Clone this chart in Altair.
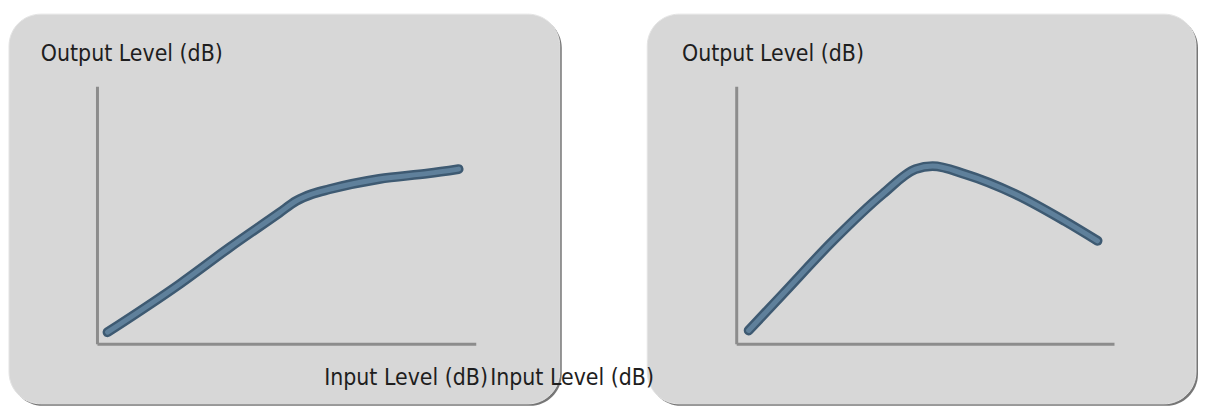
import altair as alt
import pandas as pd

# ---- data (dB) ----
in_left = [-58.4, -46.9, -39.1, -31.2, -28.5, -26.0, -23.3, -15.4, -7.6, -2.8]
out_left = [-57.2, -45.9, -37.5, -29.4, -26.6, -25.0, -23.9, -21.5, -20.2, -19.2]
in_right = [-58.1, -52.6, -44.7, -36.8, -31.6, -28.9, -23.7, -15.8, -7.9, -2.7]
out_right = [-56.8, -48.2, -35.9, -25.0, -19.2, -18.5, -20.4, -25.0, -31.3, -35.9]
y_title = "Output Level (dB)"
x_title = "Input Level (dB)"
axis_min, axis_max = -60, 0

FONT = "Liberation Sans Narrow, DejaVu Sans Condensed, Liberation Sans"
FS = 23
H = 393


def panel(xs, ys, W, x_range, ytitle_x, xtitle_x):
    curve = pd.DataFrame({"input": xs, "output": ys})
    xs_ = alt.Scale(domain=[axis_min, axis_max], range=x_range, nice=False, zero=False)
    ys_ = alt.Scale(domain=[axis_min, axis_max], range=[332, 73], nice=False, zero=False)
    one = alt.Data(values=[{"k": 1}])

    shadow = alt.Chart(one).mark_rect(cornerRadius=32, fill="#5e5e5e", opacity=0.85).encode(
        x=alt.value(2), x2=alt.value(W + 1), y=alt.value(2), y2=alt.value(H + 1)
    )
    box = alt.Chart(one).mark_rect(cornerRadius=32, fill="#d7d7d7", stroke="#e4e4e4", strokeWidth=1).encode(
        x=alt.value(0), x2=alt.value(W - 1), y=alt.value(0), y2=alt.value(H - 1)
    )
    axes_df = pd.DataFrame({
        "x": [axis_min, axis_min], "y": [axis_min, axis_min],
        "x2": [axis_max, axis_min], "y2": [axis_min, axis_max],
    })
    axes = alt.Chart(axes_df).mark_rule(color="#8c8c8c", strokeWidth=3).encode(
        x=alt.X("x:Q", scale=xs_, axis=None),
        y=alt.Y("y:Q", scale=ys_, axis=None),
        x2="x2:Q", y2="y2:Q",
    )
    base = alt.Chart(curve).encode(
        x=alt.X("input:Q", scale=xs_, axis=None),
        y=alt.Y("output:Q", scale=ys_, axis=None),
    )
    outer = base.mark_line(color="#3e5a72", strokeWidth=10, strokeCap="round", interpolate="monotone")
    inner = base.mark_line(color="#5f809b", strokeWidth=5, strokeCap="round", interpolate="monotone")
    ylab = alt.Chart(alt.Data(values=[{"t": y_title}])).mark_text(
        font=FONT, fontSize=FS, color="#1e1e1e", align="left", baseline="middle"
    ).encode(text="t:N", x=alt.value(ytitle_x), y=alt.value(40))
    xlab = alt.Chart(alt.Data(values=[{"t": x_title}])).mark_text(
        font=FONT, fontSize=FS, color="#1e1e1e", align="left", baseline="middle"
    ).encode(text="t:N", x=alt.value(xtitle_x), y=alt.value(366))
    return alt.layer(shadow, box, axes, outer, inner, ylab, xlab).resolve_scale(
        x="shared", y="shared"
    ).properties(width=W, height=H)


left = panel(in_left, out_left, 555, [89, 470], 32, 317)
right = panel(in_right, out_right, 553, [90, 470], 35, -158)

chart = alt.hconcat(left, right, spacing=87, bounds="flush").properties(
    padding={"left": 0, "top": 4, "right": 0, "bottom": 0}
).configure_view(strokeWidth=0)

chart.save("out.html", embed_options={"renderer": "svg", "actions": False})
